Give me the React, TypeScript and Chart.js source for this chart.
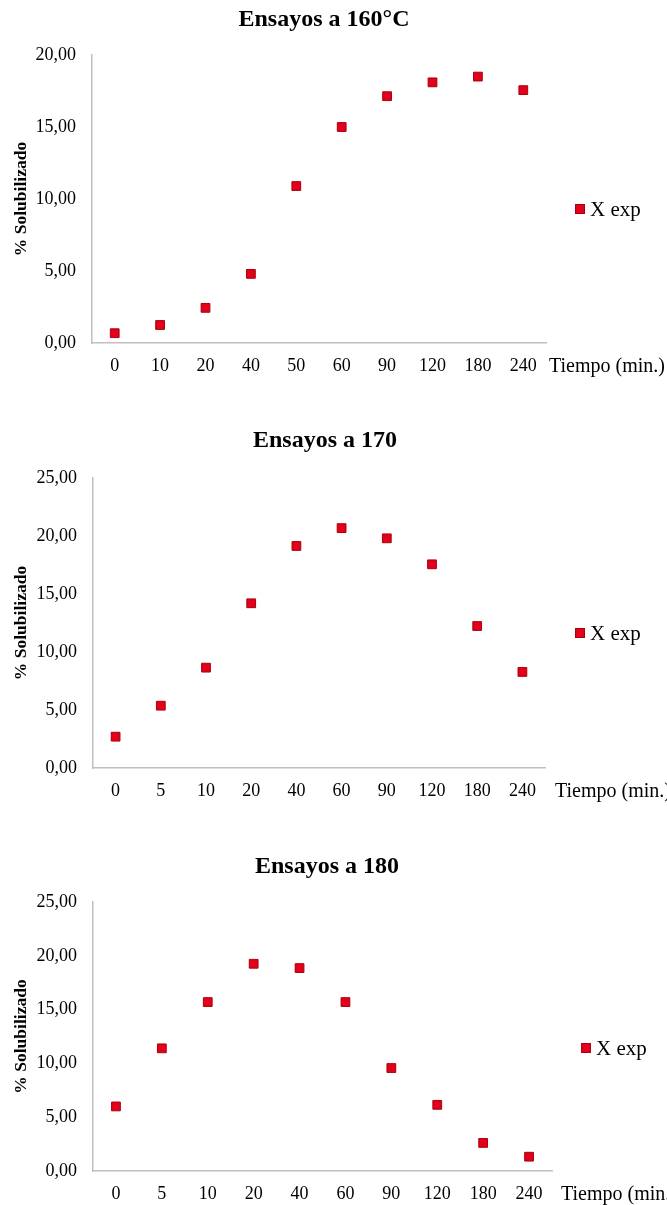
import React, { useEffect, useRef } from "react";
import { Chart, registerables } from "chart.js";

Chart.register(...registerables);

const FONT = '"Liberation Serif", "Times New Roman", Times, serif';
const MARKER_FILL = "#e3001b";
const MARKER_BORDER = "#a8000f";
const AXIS_COLOR = "#bfbfbf";

// ---- Data ----
const categories160 = ["0", "10", "20", "40", "50", "60", "90", "120", "180", "240"];
const values160 = [0.68, 1.25, 2.44, 4.8, 10.9, 15.0, 17.14, 18.1, 18.5, 17.56];

const categories170 = ["0", "5", "10", "20", "40", "60", "90", "120", "180", "240"];
const values170 = [2.7, 5.37, 8.65, 14.2, 19.14, 20.68, 19.8, 17.56, 12.24, 8.28];

const categories180 = ["0", "5", "10", "20", "40", "60", "90", "120", "180", "240"];
const values180 = [6.0, 11.4, 15.7, 19.26, 18.86, 15.7, 9.57, 6.15, 2.61, 1.33];

const titles = ["Ensayos a 160°C", "Ensayos a 170", "Ensayos a 180"];
const yMaxes = [20, 25, 25];
const seriesLabel = "X exp";
const yAxisTitle = "% Solubilizado";
const xAxisLabel = "Tiempo (min.)";

const fmt = (v: number) => v.toFixed(2).replace(".", ",");

const overlayPlugin = {
  id: "overlay",
  afterDraw(chart: any, _args: any, opts: any) {
    const ctx = chart.ctx;
    const area = chart.chartArea;
    ctx.save();
    ctx.fillStyle = "#000";
    ctx.textBaseline = "middle";
    // title
    ctx.font = `bold 24px ${FONT}`;
    ctx.textAlign = "center";
    ctx.fillText(opts.title, opts.titleX, opts.titleY);
    // x axis label at end of tick row
    ctx.font = `20px ${FONT}`;
    ctx.textAlign = "left";
    ctx.fillText(opts.xLabel, opts.xLabelX, area.bottom + 24);
    // legend
    ctx.fillStyle = MARKER_BORDER;
    ctx.fillRect(opts.legX - 5, opts.legY - 5, 10, 10);
    ctx.fillStyle = MARKER_FILL;
    ctx.fillRect(opts.legX - 4, opts.legY - 4, 8, 8);
    ctx.fillStyle = "#000";
    ctx.font = `21px ${FONT}`;
    ctx.fillText(opts.legLabel, opts.legX + 10, opts.legY + 1);
    ctx.restore();
  },
};

type PanelProps = {
  top: number;
  height: number;
  areaTop: number;
  areaBottom: number;
  areaLeft: number;
  areaRight: number;
  categories: string[];
  values: number[];
  yMax: number;
  title: string;
  titleX: number;
  titleY: number;
  legX: number;
  legY: number;
  xLabelX: number;
};

function Panel(p: PanelProps) {
  const ref = useRef<HTMLCanvasElement | null>(null);
  useEffect(() => {
    if (!ref.current) return;
    const W = 667;
    const chart = new Chart(ref.current, {
      type: "line",
      data: {
        labels: p.categories,
        datasets: [
          {
            label: seriesLabel,
            data: p.values,
            showLine: false,
            pointStyle: "rect",
            pointRadius: 6.2,
            pointBackgroundColor: MARKER_FILL,
            pointBorderColor: MARKER_BORDER,
            pointBorderWidth: 1,
          },
        ],
      },
      options: {
        responsive: false,
        animation: false,
        events: [],
        layout: {
          padding: { top: p.areaTop, left: 0, right: W - p.areaRight, bottom: 0 },
        },
        plugins: {
          legend: { display: false },
          title: { display: false },
          tooltip: { enabled: false },
          overlay: {
            title: p.title,
            titleX: p.titleX,
            titleY: p.titleY,
            xLabel: xAxisLabel,
            xLabelX: p.xLabelX,
            legX: p.legX,
            legY: p.legY,
            legLabel: seriesLabel,
          },
        } as any,
        scales: {
          x: {
            type: "category",
            offset: true,
            grid: { display: false, drawTicks: false },
            border: { display: true, color: AXIS_COLOR, width: 1.5 },
            ticks: {
              color: "#000",
              font: { family: FONT, size: 18 },
              padding: 12,
              maxRotation: 0,
              autoSkip: false,
            },
            afterFit: (scale: any) => {
              scale.height = p.height - p.areaBottom;
            },
          },
          y: {
            min: 0,
            max: p.yMax,
            grid: { display: false, drawTicks: false },
            border: { display: true, color: AXIS_COLOR, width: 1.5 },
            ticks: {
              stepSize: 5,
              color: "#000",
              font: { family: FONT, size: 18 },
              padding: 16,
              callback: (v: any) => fmt(Number(v)),
            },
            title: {
              display: true,
              text: yAxisTitle,
              color: "#000",
              font: { family: FONT, size: 17.5, weight: "bold" },
              padding: { top: 11, bottom: 0 },
            },
            afterFit: (scale: any) => {
              scale.width = p.areaLeft;
            },
          },
        },
      },
      plugins: [overlayPlugin as any],
    });
    return () => chart.destroy();
  }, []);
  return (
    <canvas
      ref={ref}
      width={667}
      height={p.height}
      style={{ position: "absolute", left: 0, top: p.top, width: 667, height: p.height }}
    />
  );
}

export default function App() {
  return (
    <div style={{ position: "absolute", left: 0, top: 0, width: 667, height: 1205, background: "#fff", overflow: "hidden" }}>
      <Panel
        top={0}
        height={395}
        areaTop={55}
        areaBottom={343}
        areaLeft={92}
        areaRight={546}
        categories={categories160}
        values={values160}
        yMax={yMaxes[0]}
        title={titles[0]}
        titleX={324}
        titleY={20}
        legX={580}
        legY={209}
        xLabelX={549}
      />
      <Panel
        top={400}
        height={415}
        areaTop={78}
        areaBottom={368}
        areaLeft={93}
        areaRight={545}
        categories={categories170}
        values={values170}
        yMax={yMaxes[1]}
        title={titles[1]}
        titleX={325}
        titleY={41}
        legX={580}
        legY={233}
        xLabelX={555}
      />
      <Panel
        top={815}
        height={390}
        areaTop={87}
        areaBottom={356}
        areaLeft={93}
        areaRight={552}
        categories={categories180}
        values={values180}
        yMax={yMaxes[2]}
        title={titles[2]}
        titleX={327}
        titleY={52}
        legX={586}
        legY={233}
        xLabelX={561}
      />
    </div>
  );
}
